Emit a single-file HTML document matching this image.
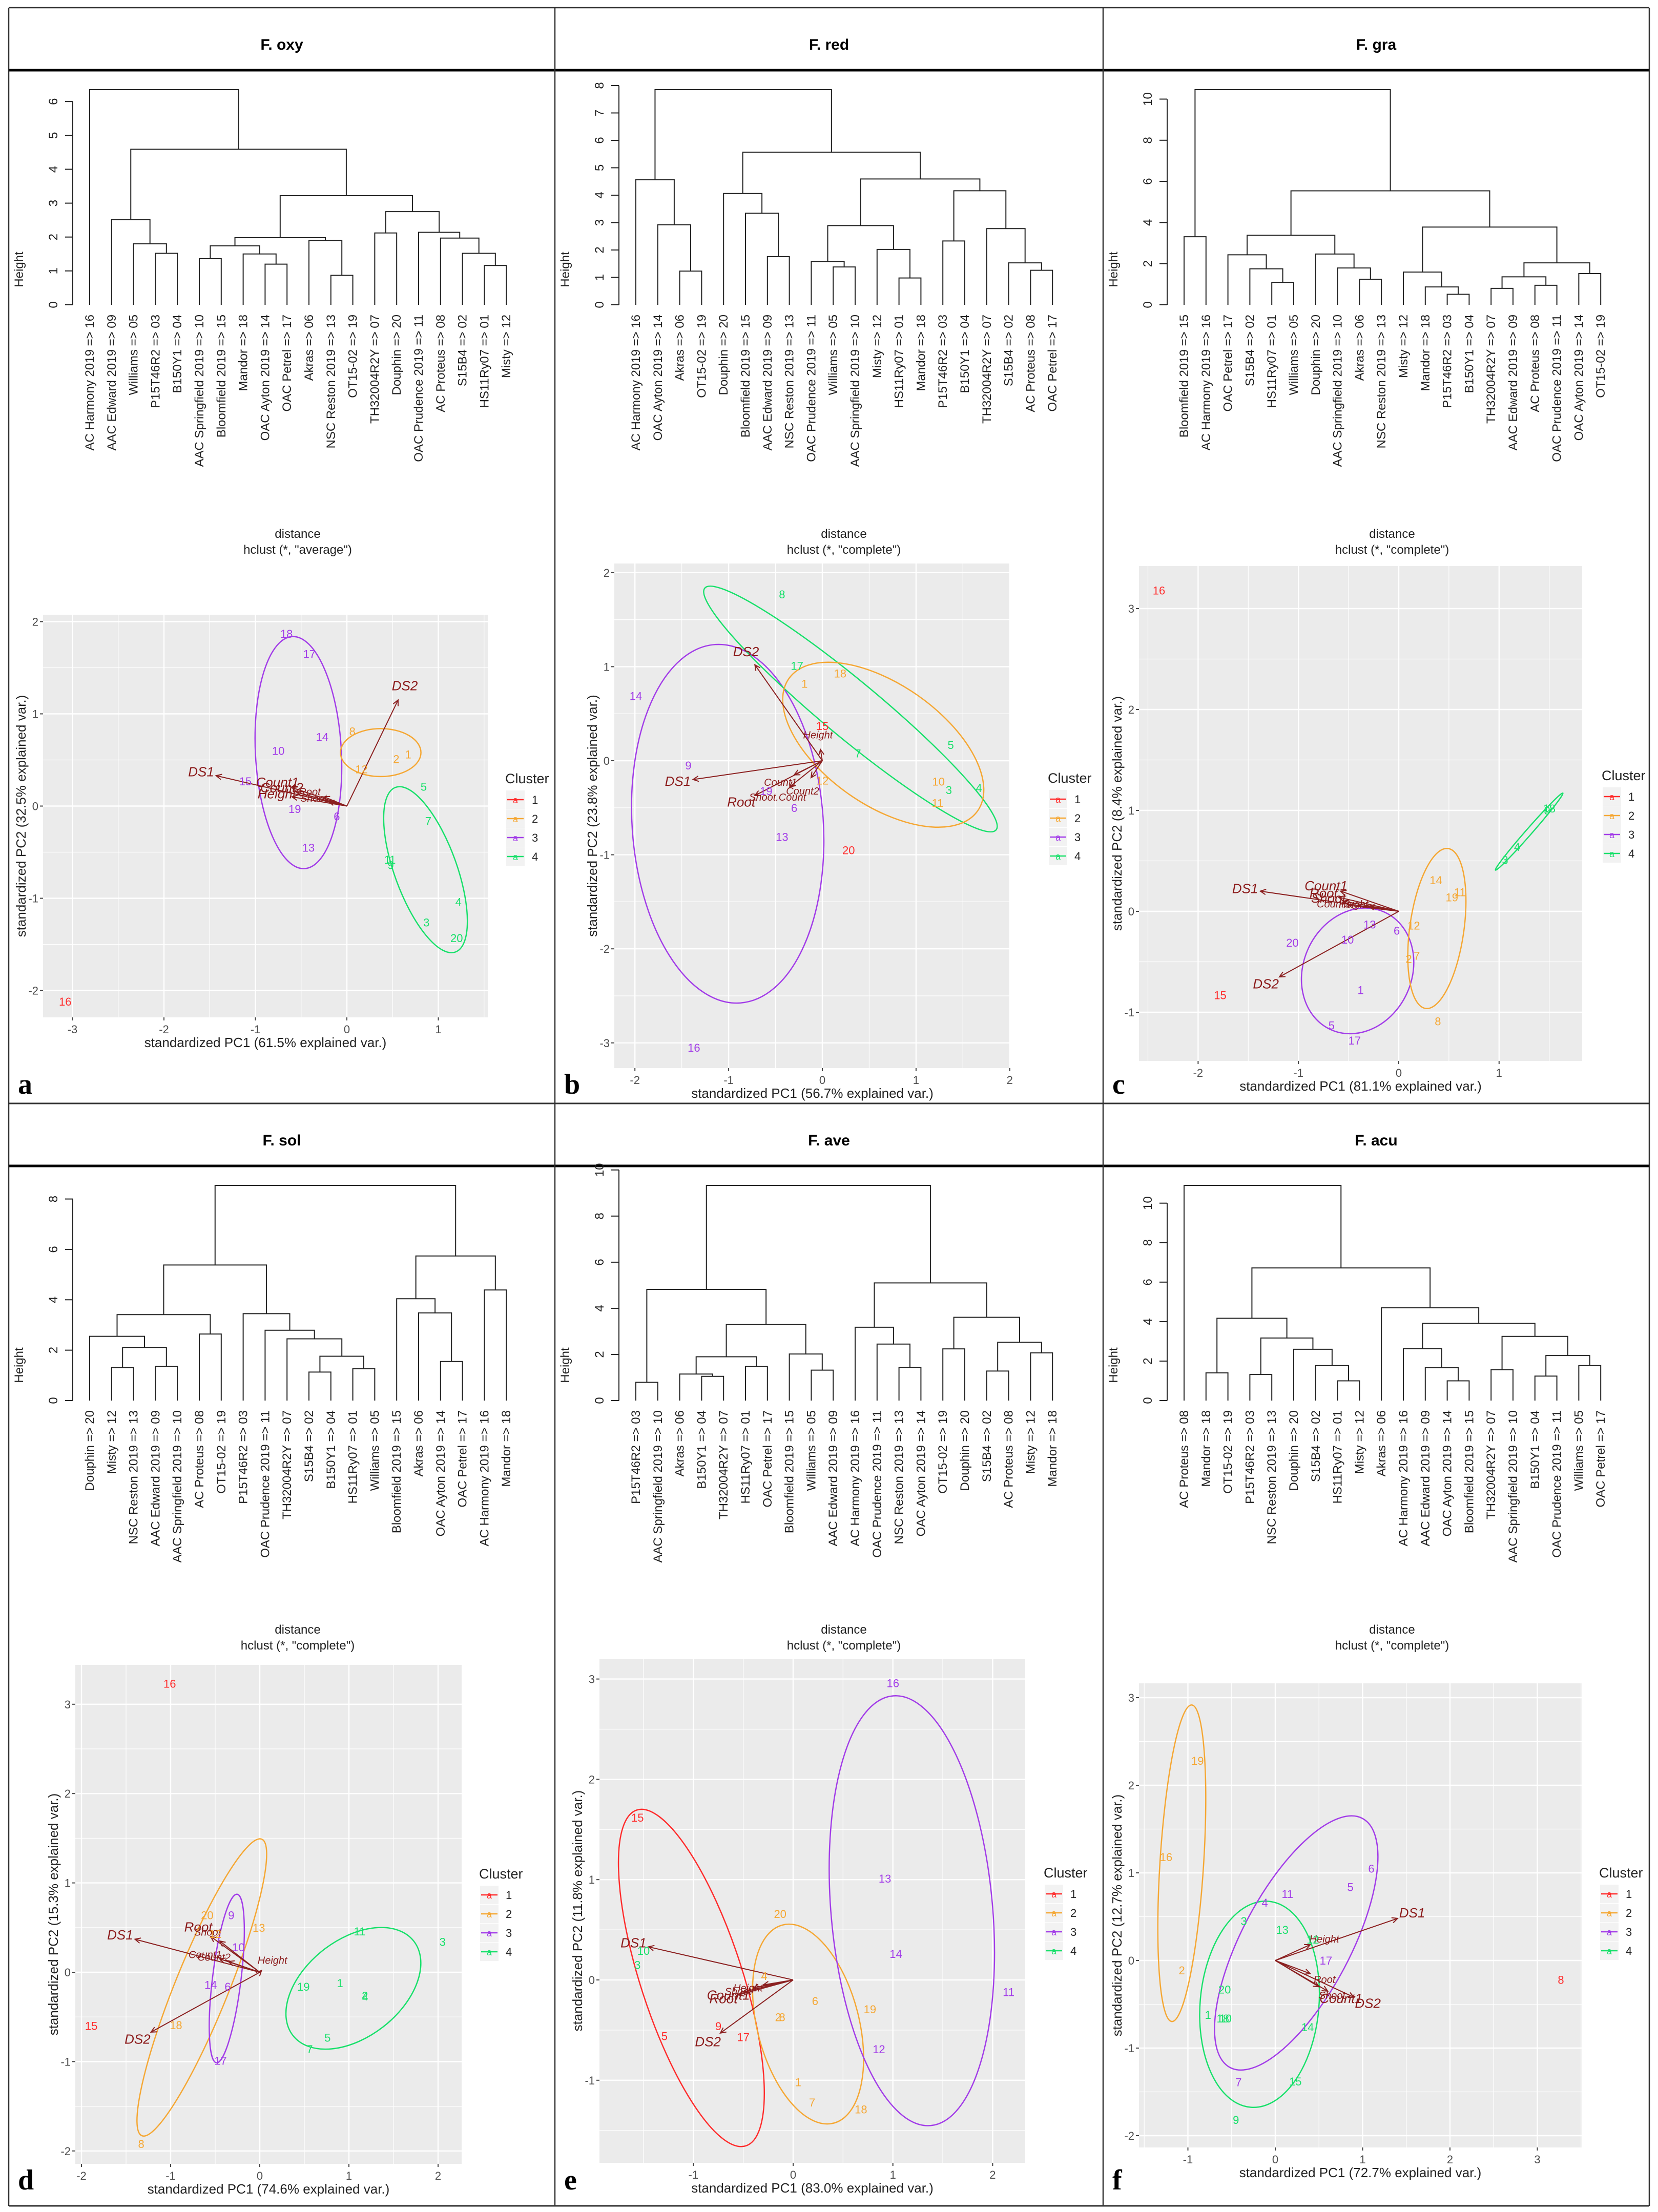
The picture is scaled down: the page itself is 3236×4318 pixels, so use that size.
<!DOCTYPE html>
<html><head><meta charset="utf-8">
<style>
html,body{margin:0;padding:0;background:#fff;}
svg{display:block;font-family:"Liberation Sans",Arial,sans-serif;}
</style></head>
<body>
<svg id="fig" xmlns="http://www.w3.org/2000/svg" width="3236" height="4318" viewBox="0 0 3236 4318">
<rect x="0" y="0" width="3236" height="4318" fill="#fff"/>
<g stroke="#333" fill="none">
<line x1="17" y1="15" x2="3219" y2="15" stroke-width="2.5"/>
<line x1="17" y1="137" x2="3219" y2="137" stroke-width="5" stroke="#000"/>
<line x1="17" y1="2154" x2="3219" y2="2154" stroke-width="3"/>
<line x1="17" y1="2276" x2="3219" y2="2276" stroke-width="5" stroke="#000"/>
<line x1="17" y1="4306" x2="3219" y2="4306" stroke-width="3"/>
<line x1="17" y1="15" x2="17" y2="4306" stroke-width="2.5"/>
<line x1="1083" y1="15" x2="1083" y2="4306" stroke-width="2.5"/>
<line x1="2153" y1="15" x2="2153" y2="4306" stroke-width="2.5"/>
<line x1="3219" y1="15" x2="3219" y2="4306" stroke-width="2.5"/>
</g>
<g font-weight="bold" font-size="30" text-anchor="middle" fill="#000">
<text x="550" y="97">F. oxy</text>
<text x="1618" y="97">F. red</text>
<text x="2686" y="97">F. gra</text>
<text x="550" y="2236">F. sol</text>
<text x="1618" y="2236">F. ave</text>
<text x="2686" y="2236">F. acu</text>
</g>
</svg>
<script>
const NAMES = {1:"HS11Ry07",2:"S15B4",3:"P15T46R2",4:"B150Y1",5:"Williams",6:"Akras",7:"TH32004R2Y",8:"AC Proteus",9:"AAC Edward 2019",10:"AAC Springfield 2019",11:"OAC Prudence 2019",12:"Misty",13:"NSC Reston 2019",14:"OAC Ayton 2019",15:"Bloomfield 2019",16:"AC Harmony 2019",17:"OAC Petrel",18:"Mandor",19:"OT15-02",20:"Douphin"};

// ---------- dendrogram data ----------
const leavesA = [16,9,5,3,4,10,15,18,14,17,6,13,19,7,20,11,8,2,1,12];
const treeA = [6.35,0,[4.59,[2.51,1,[1.80,2,[1.52,3,4]]],[3.22,[1.98,[1.74,[1.36,5,6],[1.50,7,[1.20,8,9]]],[1.90,10,[0.87,11,12]]],[2.75,[2.12,13,14],[2.14,15,[1.97,16,[1.52,17,[1.16,18,19]]]]]]]];
const ticksA = [0,1,2,3,4,5,6];
const leavesB = [16,14,6,19,20,15,9,13,11,5,10,12,1,18,3,4,7,2,8,17];
const treeB = [7.85,[4.56,0,[2.92,1,[1.23,2,3]]],[5.57,[4.06,4,[3.34,5,[1.76,6,7]]],[4.59,[2.89,[1.58,8,[1.38,9,10]],[2.02,11,[0.98,12,13]]],[4.16,[2.33,14,15],[2.78,16,[1.53,17,[1.26,18,19]]]]]]];
const ticksB = [0,1,2,3,4,5,6,7,8];
const leavesC = [15,16,17,2,1,5,20,10,6,13,12,18,3,4,7,9,8,11,14,19];
const treeC = [10.46,[3.31,0,1],[5.54,[3.38,[2.43,2,[1.75,3,[1.09,4,5]]],[2.47,6,[1.79,7,[1.24,8,9]]]],[3.78,[1.59,10,[0.87,11,[0.51,12,13]]],[2.04,[1.36,[0.80,14,15],[0.95,16,17]],[1.52,18,19]]]]];
const ticksC = [0,2,4,6,8,10];
const leavesD = [20,12,13,9,10,8,19,3,11,7,2,4,1,5,15,6,14,17,16,18];
const treeD = [8.54,[5.38,[3.41,[2.55,0,[2.11,[1.31,1,2],[1.36,3,4]]],[2.64,5,6]],[3.45,7,[2.79,8,[2.45,9,[1.76,[1.13,10,11],[1.26,12,13]]]]]],[5.74,[4.04,14,[3.48,15,[1.55,16,17]]],[4.39,18,19]]];
const ticksD = [0,2,4,6,8];
const leavesE = [3,10,6,4,7,1,17,15,5,9,16,11,13,14,19,20,2,8,12,18];
const treeE = [9.33,[4.82,[0.79,0,1],[3.30,[1.90,[1.15,2,[1.05,3,4]],[1.48,5,6]],[2.02,7,[1.32,8,9]]]],[5.10,[3.18,10,[2.45,11,[1.44,12,13]]],[3.61,[2.24,14,15],[2.53,[1.28,16,17],[2.07,18,19]]]]];
const ticksE = [0,2,4,6,8,10];
const leavesF = [8,18,19,3,13,20,2,1,12,6,16,9,14,15,7,10,4,11,5,17];
const treeF = [10.9,0,[6.72,[4.17,[1.40,1,2],[3.17,[1.32,3,4],[2.60,5,[1.77,6,[1.0,7,8]]]]],[4.70,9,[3.92,[2.63,10,[1.66,11,[1.0,12,13]]],[3.25,[1.56,14,15],[2.28,[1.24,16,17],[1.77,18,19]]]]]]];
const ticksF = [0,2,4,6,8,10];

// ---------- PCA data ----------
const idsA = [18,17,14,10,15,19,6,13,8,2,1,12,5,7,11,9,4,3,20,16];
const xA = [-0.66,-0.41,-0.27,-0.75,-1.11,-0.57,-0.11,-0.42,0.06,0.54,0.67,0.16,0.84,0.89,0.47,0.48,1.22,0.87,1.20,-3.08];
const yA = [1.87,1.65,0.75,0.60,0.27,-0.03,-0.11,-0.45,0.81,0.51,0.56,0.40,0.21,-0.16,-0.58,-0.64,-1.04,-1.26,-1.43,-2.12];
const clA = [3,3,3,3,3,3,3,3,2,2,2,2,4,4,4,4,4,4,4,1];
const ellCxA = [-0.53,0.37,0.86], ellCyA = [0.58,0.58,-0.69], ellRxA = [0.47,0.44,0.34], ellRyA = [1.26,0.26,0.95], ellRotA = [-3,0,-20], ellClA = [3,2,4];
const arrXA = [-1.43,0.56,-0.6,-0.55,-0.6,-0.25,-0.2], arrYA = [0.33,1.15,0.2,0.15,0.1,0.1,0.05];
const arrLabA = ["DS1","DS2","Count1","Count2","Height","Root","Shoot"];

const idsB = [8,17,7,5,3,4,18,1,12,10,11,15,20,14,9,19,6,13,16];
const xB = [-0.43,-0.27,0.38,1.37,1.35,1.67,0.19,-0.19,0,1.24,1.23,0,0.28,-1.99,-1.43,-0.6,-0.3,-0.43,-1.37];
const yB = [1.77,1.01,0.08,0.17,-0.31,-0.29,0.93,0.82,-0.21,-0.22,-0.45,0.37,-0.95,0.69,-0.05,-0.32,-0.5,-0.81,-3.05];
const clB = [4,4,4,4,4,4,2,2,2,2,2,1,1,3,3,3,3,3,3];
const ellCxB = [-1.01,0.3,0.65], ellCyB = [-0.67,0.55,0.17], ellRxB = [1.02,2.02,1.23], ellRyB = [1.91,0.30,0.64], ellRotB = [-4,39.7,35], ellClB = [3,4,2];
const arrXB = [-1.38,-0.72,-0.02,-0.72,-0.35,-0.3,-0.12], arrYB = [-0.2,1.02,0.12,-0.37,-0.28,-0.15,-0.18];
const arrLabB = ["DS1","DS2","Height","Root","Shoot.Count","Count1","Count2"];

const idsC = [16,15,14,19,11,12,2,7,8,13,6,10,20,1,5,17,3,4,9,18];
const xC = [-2.39,-1.78,0.37,0.53,0.61,0.15,0.10,0.18,0.39,-0.29,-0.02,-0.51,-1.06,-0.38,-0.67,-0.44,1.06,1.18,1.48,1.50];
const yC = [3.18,-0.83,0.31,0.14,0.19,-0.14,-0.47,-0.44,-1.09,-0.13,-0.19,-0.28,-0.31,-0.78,-1.13,-1.28,0.51,0.64,1.0,1.02];
const clC = [1,1,2,2,2,2,2,2,2,3,3,3,3,3,3,3,4,4,4,4];
const ellCxC = [-0.41,0.38,1.3], ellCyC = [-0.59,-0.17,0.79], ellRxC = [0.54,0.27,0.51], ellRyC = [0.64,0.80,0.03], ellRotC = [25,8,-48.8], ellClC = [3,2,4];
const arrXC = [-1.38,-1.19,-0.58,-0.6,-0.55,-0.5,-0.3], arrYC = [0.2,-0.65,0.2,0.14,0.1,0.06,0.05];
const arrLabC = ["DS1","DS2","Count1","Root","Shoot","Count3","Height"];

const idsD = [16,15,20,13,18,8,12,9,10,14,6,17,11,3,1,2,4,19,5,7];
const xD = [-1.01,-1.89,-0.59,-0.01,-0.94,-1.33,-0.5,-0.32,-0.24,-0.55,-0.36,-0.44,1.12,2.05,0.9,1.18,1.18,0.49,0.76,0.56];
const yD = [3.23,-0.6,0.64,0.5,-0.59,-1.92,0.43,0.64,0.28,-0.14,-0.16,-0.99,0.46,0.34,-0.12,-0.26,-0.27,-0.16,-0.73,-0.86];
const clD = [1,1,2,2,2,2,2,3,3,3,3,3,4,4,4,4,4,4,4,4];
const ellCxD = [-0.65,-0.37,1.05], ellCyD = [-0.17,-0.07,-0.18], ellRxD = [0.30,0.16,0.86], ellRyD = [1.79,0.95,0.545], ellRotD = [22,7,-38], ellClD = [2,3,4];
const arrXD = [-1.4,-1.22,-0.55,-0.45,0.02,-0.45,-0.35], arrYD = [0.37,-0.67,0.4,0.35,0.02,0.15,0.12];
const arrLabD = ["DS1","DS2","Root","Shoot","Height","Count1","Count2"];

const idsE = [15,5,9,17,10,3,20,4,6,2,8,19,1,7,18,16,13,14,11,12];
const xE = [-1.56,-1.29,-0.75,-0.50,-1.50,-1.56,-0.13,-0.29,0.22,-0.15,-0.11,0.77,0.05,0.19,0.68,1.0,0.92,1.03,2.16,0.86];
const yE = [1.62,-0.56,-0.46,-0.57,0.29,0.15,0.66,0.04,-0.21,-0.37,-0.37,-0.29,-1.02,-1.22,-1.29,2.96,1.01,0.26,-0.12,-0.69];
const clE = [1,1,1,1,4,4,2,2,2,2,2,2,2,2,2,3,3,3,3,3];
const ellCxE = [-1.02,0.15,1.19], ellCyE = [0.02,-0.44,0.69], ellRxE = [0.51,0.51,0.81], ellRyE = [1.76,1.02,2.15], ellRotE = [-18,-14.5,-5], ellClE = [1,2,3];
const arrXE = [-1.45,-0.73,-0.4,-0.55,-0.5,-0.3], arrYE = [0.33,-0.53,-0.08,-0.15,-0.12,-0.05];
const arrLabE = ["DS1","DS2","Shoot","Root","Count1","Height"];

const idsF = [19,16,2,8,6,5,11,4,17,7,3,13,12,20,1,10,18,14,15,9];
const xF = [-0.89,-1.25,-1.07,3.27,1.10,0.86,0.14,-0.12,0.58,-0.42,-0.36,0.08,0.43,-0.58,-0.77,-0.57,-0.6,0.37,0.23,-0.45];
const yF = [2.28,1.18,-0.11,-0.22,1.05,0.84,0.76,0.66,0,-1.39,0.45,0.35,0.24,-0.33,-0.62,-0.66,-0.66,-0.76,-1.38,-1.82];
const clF = [2,2,2,1,3,3,3,3,3,3,4,4,4,4,4,4,4,4,4,4];
const ellCxF = [-1.07,-0.18,0.24], ellCyF = [1.11,-0.5,0.2], ellRxF = [0.25,0.68,0.62], ellRyF = [1.81,1.18,1.61], ellRotF = [3.6,5,28], ellClF = [2,4,3];
const arrXF = [1.4,0.9,0.4,0.4,0.5,0.6], arrYF = [0.48,-0.42,0.18,-0.15,-0.3,-0.35];
const arrLabF = ["DS1","DS2","Height","Root","Shoot","Count1"];

const CLCOL = {1:"#ff2b2b",2:"#f5a733",3:"#a23ce8",4:"#17e06a"};
const SVGNS = "http://www.w3.org/2000/svg";
const fig = document.getElementById("fig");
function mk(parent, tag, attrs, txt){
  const e = document.createElementNS(SVGNS, tag);
  for (const k in attrs) e.setAttribute(k, attrs[k]);
  if (txt !== undefined) e.textContent = txt;
  parent.appendChild(e);
  return e;
}
function pad(n){ return (n<10?"0":"")+n; }

function dendro(ox, oy, leaves, tree, ticks, method, key){
  const g = mk(fig, "g", {transform:"translate("+ox+","+oy+")"});
  
  
  const AX=125, Y0=580, YTOP=160, LX0=158, LDX=42.8;
  const maxH = tree[0];
  const ys = h => Y0 - h*(Y0-YTOP)/maxH;
  const xs = i => LX0 + i*LDX;
  const ax = mk(g, "line", {x1:AX, x2:AX, y1:ys(ticks[0]), y2:ys(ticks[ticks.length-1]), stroke:"#222", "stroke-width":2});
  
  
  ticks.forEach(t => {
    const tl = mk(g, "line", {x1:AX-15, x2:AX, y1:ys(t), y2:ys(t), stroke:"#222", "stroke-width":2});
    
    
    const tt = mk(g, "text", {transform:"translate("+(AX-30)+","+ys(t)+") rotate(-90)", "text-anchor":"middle", "font-size":24, fill:"#222"}, String(t));
    
    
  });
  const yt = mk(g, "text", {transform:"translate(28,511) rotate(-90)", "text-anchor":"middle", "font-size":24, fill:"#222"}, "Height");
  
  
  function draw(node){
    if (typeof node === "number") return {x: xs(node), y: ys(0)};
    const a = draw(node[1]), b = draw(node[2]);
    const y = ys(node[0]);
    const p = mk(g, "path", {d:"M"+a.x+","+a.y+"V"+y+"H"+b.x+"V"+b.y, fill:"none", stroke:"#222", "stroke-width":2});
    
    
    return {x:(a.x+b.x)/2, y:y};
  }
  draw(tree);
  leaves.forEach((n,i) => {
    const t = mk(g, "text", {transform:"translate("+(xs(i)+8)+",599) rotate(-90)", "text-anchor":"end", "font-size":24, fill:"#222"}, NAMES[n]+" => "+pad(n));
    
    
  });
  const d1 = mk(g, "text", {x:564, y:1035, "text-anchor":"middle", "font-size":24, fill:"#222"}, "distance");
  
  
  const d2 = mk(g, "text", {x:564, y:1066, "text-anchor":"middle", "font-size":24, fill:"#222"}, 'hclust (*, "'+method+'")');
  
  
}

function pca(ox, oy, L, key, ids, xsD, ysD, cl, ecx, ecy, erx, ery, erot, ecl, ax_, ay_, alab){
  const g = mk(fig, "g", {transform:"translate("+ox+","+oy+")"});
  
  
  const X = v => L.x0 + v*L.xs, Y = v => L.y0 - v*L.ys;
  const bg = mk(g, "rect", {x:L.L, y:L.T, width:L.R-L.L, height:L.B-L.T, fill:"#ebebeb"});
  
  
  const xmin=(L.L-L.x0)/L.xs, xmax=(L.R-L.x0)/L.xs, ymin=(L.y0-L.B)/L.ys, ymax=(L.y0-L.T)/L.ys;
  for (let v=Math.ceil(xmin*2)/2; v<=xmax; v+=0.5){
    const maj = Math.abs(v-Math.round(v))<1e-6;
    const gl = mk(g, "line", {x1:X(v), x2:X(v), y1:L.T, y2:L.B, stroke:"#fff", "stroke-width":maj?2.4:1.2});
    
    
    if (maj){
      const tk = mk(g, "line", {x1:X(v), x2:X(v), y1:L.B, y2:L.B+6, stroke:"#444", "stroke-width":2});
      
      
      const tt = mk(g, "text", {x:X(v), y:L.B+31, "text-anchor":"middle", "font-size":22, fill:"#4d4d4d"}, String(Math.round(v)));
      
      
    }
  }
  for (let v=Math.ceil(ymin*2)/2; v<=ymax; v+=0.5){
    const maj = Math.abs(v-Math.round(v))<1e-6;
    const gl = mk(g, "line", {x1:L.L, x2:L.R, y1:Y(v), y2:Y(v), stroke:"#fff", "stroke-width":maj?2.4:1.2});
    
    
    if (maj){
      const tk = mk(g, "line", {x1:L.L-6, x2:L.L, y1:Y(v), y2:Y(v), stroke:"#444", "stroke-width":2});
      
      
      const tt = mk(g, "text", {x:L.L-9, y:Y(v)+8, "text-anchor":"end", "font-size":22, fill:"#4d4d4d"}, String(Math.round(v)));
      
      
    }
  }
  ecx.forEach((c,i) => {
    const el = mk(g, "ellipse", {cx:X(c), cy:Y(ecy[i]), rx:erx[i]*L.xs, ry:ery[i]*L.ys, fill:"none", stroke:CLCOL[ecl[i]], "stroke-width":2.5, transform:"rotate("+erot[i]+","+X(c)+","+Y(ecy[i])+")"});
    
    
  });
  ax_.forEach((v,i) => {
    const x2=X(v), y2=Y(ay_[i]), x1=X(0), y1=Y(0);
    const ang = Math.atan2(y2-y1, x2-x1), h=12;
    const ar = mk(g, "path", {d:"M"+x1+","+y1+"L"+x2+","+y2+"M"+(x2-h*Math.cos(ang-0.45))+","+(y2-h*Math.sin(ang-0.45))+"L"+x2+","+y2+"L"+(x2-h*Math.cos(ang+0.45))+","+(y2-h*Math.sin(ang+0.45)), fill:"none", stroke:"#8b2020", "stroke-width":2});
    
    
    const len = Math.hypot(x2-x1,y2-y1);
    const lx = x2 + Math.cos(ang)*30, ly = y2 + Math.sin(ang)*30 + 8;
    const at = mk(g, "text", {x:lx, y:ly, "text-anchor":"middle", "font-size":len>100?26:20, fill:"#8b1a1a", "font-style":"italic"}, alab[i]);
    
    
  });
  ids.forEach((id,i) => {
    const pt = mk(g, "text", {x:X(xsD[i]), y:Y(ysD[i])+8, "text-anchor":"middle", "font-size":22, fill:CLCOL[cl[i]]}, String(id));
    
    
  });
  const xt = mk(g, "text", {x:(L.L+L.R)/2, y:L.B+58, "text-anchor":"middle", "font-size":26, fill:"#222"}, L.xtitle);
  
  
  const yt = mk(g, "text", {transform:"translate("+(L.L-34)+","+((L.T+L.B)/2)+") rotate(-90)", "text-anchor":"middle", "font-size":26, fill:"#222"}, L.ytitle);
  
  
  const lt = mk(g, "text", {x:L.lgx, y:L.lgy+10, "font-size":27, fill:"#222"}, "Cluster");
  
  
  [1,2,3,4].forEach((c,i) => {
    const yy = L.lgy + 42 + i*37;
    const kb = mk(g, "rect", {x:L.lgx+2, y:yy-18, width:36, height:36, fill:"#f2f2f2"});
    
    
    const kl = mk(g, "line", {x1:L.lgx+4, x2:L.lgx+36, y1:yy, y2:yy, stroke:CLCOL[c], "stroke-width":2.5});
    
    
    const ka = mk(g, "text", {x:L.lgx+20, y:yy+7, "text-anchor":"middle", "font-size":18, fill:CLCOL[c]}, "a");
    
    
    const kt = mk(g, "text", {x:L.lgx+52, y:yy+8, "font-size":22, fill:"#222"}, String(c));
    
    
  });
  const let_ = mk(g, "text", {x:18, y:2120, "font-size":56, "font-weight":"bold", "font-family":"Liberation Serif, serif", fill:"#000"}, L.letter);
  
  
}

const COLS=[17,1083,2153], ROWS=[15,2154];
dendro(COLS[0],ROWS[0],leavesA,treeA,ticksA,"average","a");
dendro(COLS[1],ROWS[0],leavesB,treeB,ticksB,"complete","b");
dendro(COLS[2],ROWS[0],leavesC,treeC,ticksC,"complete","c");
dendro(COLS[0],ROWS[1],leavesD,treeD,ticksD,"complete","d");
dendro(COLS[1],ROWS[1],leavesE,treeE,ticksE,"complete","e");
dendro(COLS[2],ROWS[1],leavesF,treeF,ticksF,"complete","f");

pca(COLS[0],ROWS[0],{L:67,R:935,T:1185,B:1971,x0:660,xs:178.5,y0:1558.5,ys:180,lgx:969,lgy:1504,letter:"a",xtitle:"standardized PC1 (61.5% explained var.)",ytitle:"standardized PC2 (32.5% explained var.)"}, "a",
  idsA,xA,yA,clA,ellCxA,ellCyA,ellRxA,ellRyA,ellRotA,ellClA,arrXA,arrYA,arrLabA);
pca(COLS[1],ROWS[0],{L:116,R:889,T:1085,B:2070,x0:522,xs:182.9,y0:1470,ys:183.6,lgx:962,lgy:1503,letter:"b",xtitle:"standardized PC1 (56.7% explained var.)",ytitle:"standardized PC2 (23.8% explained var.)"}, "b",
  idsB,xB,yB,clB,ellCxB,ellCyB,ellRxB,ellRyB,ellRotB,ellClB,arrXB,arrYB,arrLabB);
pca(COLS[2],ROWS[0],{L:70,R:935,T:1090,B:2056,x0:577,xs:195.8,y0:1764,ys:197,lgx:973,lgy:1498,letter:"c",xtitle:"standardized PC1 (81.1% explained var.)",ytitle:"standardized PC2 (8.4% explained var.)"}, "c",
  idsC,xC,yC,clC,ellCxC,ellCyC,ellRxC,ellRyC,ellRotC,ellClC,arrXC,arrYC,arrLabC);
pca(COLS[0],ROWS[1],{L:130,R:884,T:1096,B:2070,x0:490,xs:174,y0:1696,ys:174.4,lgx:918,lgy:1503,letter:"d",xtitle:"standardized PC1 (74.6% explained var.)",ytitle:"standardized PC2 (15.3% explained var.)"}, "d",
  idsD,xD,yD,clD,ellCxD,ellCyD,ellRxD,ellRyD,ellRotD,ellClD,arrXD,arrYD,arrLabD);
pca(COLS[1],ROWS[1],{L:87,R:918,T:1084,B:2068,x0:465,xs:194.7,y0:1711,ys:195.8,lgx:954,lgy:1501,letter:"e",xtitle:"standardized PC1 (83.0% explained var.)",ytitle:"standardized PC2 (11.8% explained var.)"}, "e",
  idsE,xE,yE,clE,ellCxE,ellCyE,ellRxE,ellRyE,ellRotE,ellClE,arrXE,arrYE,arrLabE);
pca(COLS[2],ROWS[1],{L:70,R:934,T:1132,B:2038,x0:336,xs:170.5,y0:1673,ys:171,lgx:968,lgy:1501,letter:"f",xtitle:"standardized PC1 (72.7% explained var.)",ytitle:"standardized PC2 (12.7% explained var.)"}, "f",
  idsF,xF,yF,clF,ellCxF,ellCyF,ellRxF,ellRyF,ellRotF,ellClF,arrXF,arrYF,arrLabF);
</script>
</body></html>
